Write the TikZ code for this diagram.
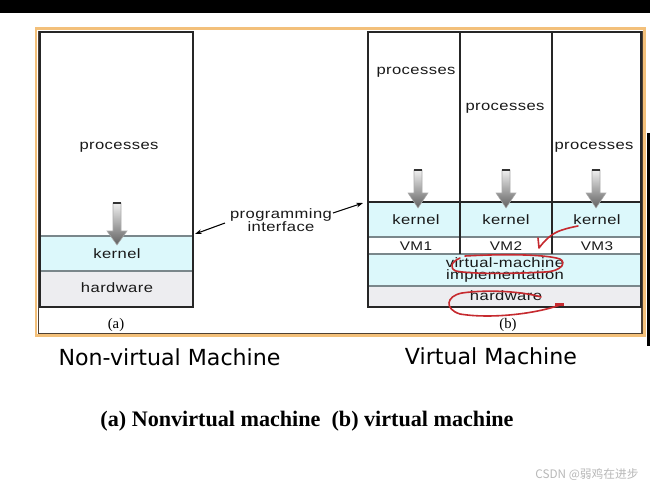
\documentclass[tikz,border=0pt]{standalone}
\usepackage{fontspec}
\usetikzlibrary{arrows.meta}
\newfontfamily\dfont[FakeStretch=1.22, LetterSpace=3]{Liberation Sans}
\newfontfamily\tfont{DejaVu Sans}
\newfontfamily\cfont{Liberation Serif}
\newfontfamily\cjkfont{Noto Sans CJK SC}
\definecolor{kcyan}{HTML}{DCF8FB}
\definecolor{hwgray}{HTML}{EDEDF0}
\definecolor{rowgray}{HTML}{7A878B}
\definecolor{frameorange}{HTML}{F3C07A}
\definecolor{framedark}{HTML}{4E4034}
\definecolor{penred}{HTML}{C62A2F}
\newcommand\dnarrow[4]{%
  \shade[top color=gray!12, bottom color=gray!75!black, draw=gray!65, line width=0.4pt]
    (#1-4,#2) -- (#1+4,#2) -- (#1+4,#3) -- (#1+10,#3) -- (#1,#4) -- (#1-10,#3) -- (#1-4,#3) -- cycle;
  \draw[gray!40!black, line width=1.2pt] (#1-4,#2) -- (#1+4,#2);}
\begin{document}
\begin{tikzpicture}[x=0.75pt,y=-0.75pt,
  lbl/.style={font=\dfont\fontsize{10.2pt}{11.5pt}\selectfont, text=black!90, inner sep=0pt, align=center},
  vmlbl/.style={font=\dfont\fontsize{9.4pt}{11pt}\selectfont, text=black!90, inner sep=0pt},
  sublbl/.style={font=\cfont\fontsize{11pt}{12pt}\selectfont, inner sep=0pt},
  title/.style={font=\tfont\fontsize{16.6pt}{18pt}\selectfont, inner sep=0pt},
  caption/.style={font=\cfont\bfseries\fontsize{16.6pt}{19pt}\selectfont, inner sep=0pt},
  rowline/.style={draw=rowgray, line width=0.9pt},
  boxline/.style={draw=black!85, line width=0.9pt},
  pen/.style={draw=penred, line width=1.2pt, line cap=round, line join=round},
  piarrow/.style={-{Stealth[length=5pt,width=3.5pt]}, line width=0.8pt, black}]
\useasboundingbox (0,0) rectangle (650,490);
\fill[white] (0,0) rectangle (650,490);
% top black bar and right black bar
\fill[black] (0,0) rectangle (650,13);
\fill[black] (647,133) rectangle (650,346);
% outer frame
\draw[frameorange, line width=2.2pt] (36,28.5) rectangle (644.5,335.5);
\draw[framedark, line width=0.8pt] (38.5,30.5) -- (38.5,333.5) -- (642,333.5) -- (642,30.5);

% ---------------- (a) non-virtual machine
\fill[hwgray] (40,271) rectangle (193,307);
\fill[kcyan] (40,236) rectangle (193,271);
\draw[rowline] (40,236) -- (193,236);
\draw[rowline] (40,271) -- (193,271);
\draw[boxline] (40,32) rectangle (193,307);
\node[lbl] (procA) at (119,147) {processes};
\node[lbl] (kernA) at (117,254) {kernel};
\node[lbl] (hwA) at (117,288) {hardware};
\node[sublbl] (labA) at (116,325) {(a)};
\dnarrow{117}{203}{231}{245}

% ---------------- (b) virtual machine
\fill[kcyan] (368,202) rectangle (641,237);
\fill[kcyan] (368,254) rectangle (641,286);
\fill[hwgray] (368,286) rectangle (641,307);
\draw[rowline] (368,237) -- (641,237);
\draw[rowline] (368,254) -- (641,254);
\draw[rowline] (368,286) -- (641,286);
\draw[black!85, line width=1.1pt] (368,202) -- (641,202);
\draw[boxline] (460,32) -- (460,254);
\draw[boxline] (552,32) -- (552,254);
\draw[boxline] (368,32) rectangle (641,307);
\node[lbl] (procB1) at (416,72) {processes};
\node[lbl] (procB2) at (505,108) {processes};
\node[lbl] (procB3) at (594,147) {processes};
\dnarrow{418}{170}{193}{208}
\dnarrow{506}{170}{193}{208}
\dnarrow{596}{170}{193}{208}
\node[lbl] (kernB1) at (416,220) {kernel};
\node[lbl] (kernB2) at (506,220) {kernel};
\node[lbl] (kernB3) at (597,220) {kernel};
\node[vmlbl] (vm1) at (416,246) {VM1};
\node[vmlbl] (vm2) at (506,246) {VM2};
\node[vmlbl] (vm3) at (597,246) {VM3};
\node[lbl] (vmi) at (505,270) {virtual-machine\\[-2pt]implementation};
\node[lbl] (hwB) at (506,296) {hardware};
\node[sublbl] (labB) at (508,325) {(b)};

% ---------------- programming interface
\node[lbl] (pi) at (281,220) {programming\\[-2pt]interface};
\coordinate (kA) at (195,234);
\coordinate (kB) at (363,203);
\draw[piarrow] (225,223) -- (kA);
\draw[piarrow] (333,213) -- (kB);

% ---------------- red pen annotations
\draw[pen] (538,238) -- (539,248) .. controls (545,240) and (552,233) .. (562,230) .. controls (568,228) and (573,227) .. (578,226);
\draw[pen] (465,256) .. controls (500,254) and (545,254) .. (560,259)
  .. controls (566,262) and (563,271) .. (545,272)
  .. controls (510,274) and (470,274) .. (456,271)
  .. controls (449,268) and (451,262) .. (460,258);
\draw[pen] (541,297) .. controls (525,292) and (490,289) .. (462,293)
  .. controls (446,296) and (444,309) .. (460,314)
  .. controls (490,319) and (535,314) .. (560,305);
\fill[penred] (555,302.5) rectangle (564,306);

% ---------------- titles and caption
\node[title] (t1) at (169.5,357) {Non-virtual Machine};
\node[title] (t2) at (491,356) {Virtual Machine};
\node[caption] (cap) at (307,421) {(a) Nonvirtual machine\ \ (b) virtual machine};
\node[font=\cjkfont\fontsize{8.8pt}{10pt}\selectfont, text=black!28, inner sep=0pt] (wm) at (587,475) {CSDN @弱鸡在进步};
\end{tikzpicture}
\end{document}
